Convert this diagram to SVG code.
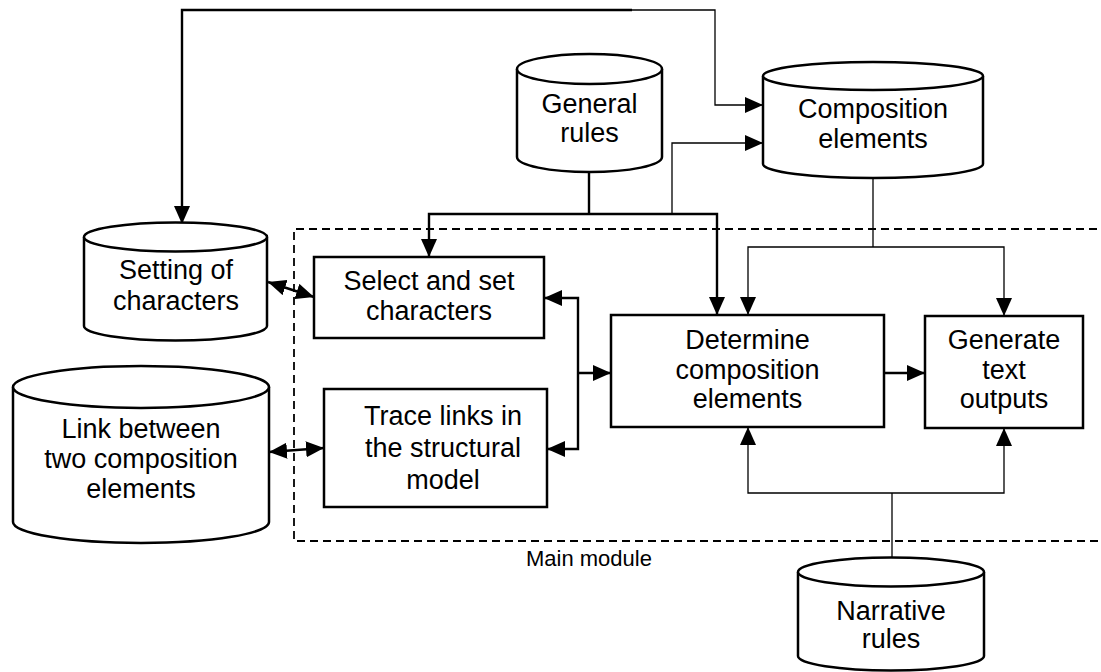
<svg xmlns="http://www.w3.org/2000/svg" width="1101" height="672" viewBox="0 0 1101 672">
  <style>
    .box { fill: #fff; stroke: #000; stroke-width: 2.5; }
    .db { fill: #fff; stroke: #000; stroke-width: 2.5; }
    .lbl { font-family: "Liberation Sans", Arial, sans-serif; font-size: 27px; fill: #000; text-anchor: middle; }
    .cap { font-family: "Liberation Sans", Arial, sans-serif; font-size: 22px; fill: #000; }
    .thick { fill: none; stroke: #000; stroke-width: 2.4; }
    .thin { fill: none; stroke: #000; stroke-width: 1.3; }
    .frame { fill: none; stroke: #000; stroke-width: 1.8; stroke-dasharray: 8 5; }
  </style>
  <defs>
    <marker id="arr" markerUnits="userSpaceOnUse" markerWidth="18" markerHeight="16" viewBox="0 0 18 16" refX="18" refY="8" orient="auto-start-reverse">
      <path d="M0,0 L18,8 L0,16 Z" fill="#000"/>
    </marker>
  </defs>

  <rect width="1101" height="672" fill="#fff"/>

  <!-- main module frame (runs off the right edge) -->
  <g id="main-module">
    <path class="frame" d="M1110,229 H294 V541 H1110"/>
    <text class="cap" x="526" y="566">Main module</text>
  </g>

  <g id="connectors">
    <!-- long loop across the top -->
    <path class="thick" d="M632,10 H182 V224" marker-end="url(#arr)"/>
    <path class="thin" d="M631,10 H715 V105 H763" marker-end="url(#arr)"/>
    <!-- general rules feed -->
    <path class="thick" d="M589,172 V214"/>
    <path class="thick" d="M429,257 V214 H717 V315" marker-start="url(#arr)" marker-end="url(#arr)"/>
    <path class="thin" d="M672,214 V143 H763" marker-end="url(#arr)"/>
    <!-- composition elements feed -->
    <path class="thin" d="M873,178 V247"/>
    <path class="thin" d="M748,315 V247 H1004 V316" marker-start="url(#arr)" marker-end="url(#arr)"/>
    <!-- narrative rules feed -->
    <path class="thin" d="M892,558 V493"/>
    <path class="thin" d="M748,427 V493 H1004 V428" marker-start="url(#arr)" marker-end="url(#arr)"/>
    <!-- characters / links to determine -->
    <path class="thick" d="M544,298 H578 V449 H547" marker-start="url(#arr)" marker-end="url(#arr)"/>
    <path class="thick" d="M578,373 H611" marker-end="url(#arr)"/>
    <path class="thick" d="M884,373 H925" marker-end="url(#arr)"/>
    <!-- store exchanges -->
    <path class="thick" d="M268,282 L314,297" marker-start="url(#arr)" marker-end="url(#arr)"/>
    <path class="thick" d="M269,452 L324,448" marker-start="url(#arr)" marker-end="url(#arr)"/>
  </g>

  <g id="general-rules">
    <path class="db" d="M517,69 A72.5,15 0 0 1 662,69 V157 A72.5,15 0 0 1 517,157 Z"/>
    <path class="db" fill="none" d="M517,69 A72.5,15 0 0 0 662,69"/>
    <text class="lbl" x="589.5" y="113">General</text>
    <text class="lbl" x="589.5" y="142">rules</text>
  </g>

  <g id="composition-elements">
    <path class="db" d="M763,76 A110,14 0 0 1 983,76 V164 A110,14 0 0 1 763,164 Z"/>
    <path class="db" fill="none" d="M763,76 A110,14 0 0 0 983,76"/>
    <text class="lbl" x="873" y="118">Composition</text>
    <text class="lbl" x="873" y="148">elements</text>
  </g>

  <g id="setting-of-characters">
    <path class="db" d="M84,237 A91.5,14.5 0 0 1 267,237 V326 A91.5,14.5 0 0 1 84,326 Z"/>
    <path class="db" fill="none" d="M84,237 A91.5,14.5 0 0 0 267,237"/>
    <text class="lbl" x="176" y="279">Setting of</text>
    <text class="lbl" x="176" y="310">characters</text>
  </g>

  <g id="link-between-elements">
    <path class="db" d="M13,387 A128,21 0 0 1 269,387 V522 A128,21 0 0 1 13,522 Z"/>
    <path class="db" fill="none" d="M13,387 A128,21 0 0 0 269,387"/>
    <text class="lbl" x="141" y="438">Link between</text>
    <text class="lbl" x="141" y="468">two composition</text>
    <text class="lbl" x="141" y="498">elements</text>
  </g>

  <g id="narrative-rules">
    <path class="db" d="M798,572 A93,14.5 0 0 1 984,572 V656 A93,14.5 0 0 1 798,656 Z"/>
    <path class="db" fill="none" d="M798,572 A93,14.5 0 0 0 984,572"/>
    <text class="lbl" x="891" y="620">Narrative</text>
    <text class="lbl" x="891" y="648">rules</text>
  </g>

  <g id="select-characters">
    <rect class="box" x="314" y="257" width="230" height="81"/>
    <text class="lbl" x="429" y="290">Select and set</text>
    <text class="lbl" x="429" y="320">characters</text>
  </g>

  <g id="trace-links">
    <rect class="box" x="324" y="389" width="223" height="118"/>
    <text class="lbl" x="443" y="425">Trace links in</text>
    <text class="lbl" x="443" y="457">the structural</text>
    <text class="lbl" x="443" y="489">model</text>
  </g>

  <g id="determine-elements">
    <rect class="box" x="611" y="315" width="273" height="112"/>
    <text class="lbl" x="747.5" y="349">Determine</text>
    <text class="lbl" x="747.5" y="379">composition</text>
    <text class="lbl" x="747.5" y="408">elements</text>
  </g>

  <g id="generate-outputs">
    <rect class="box" x="925" y="316" width="158" height="112"/>
    <text class="lbl" x="1004" y="349">Generate</text>
    <text class="lbl" x="1004" y="379">text</text>
    <text class="lbl" x="1004" y="408">outputs</text>
  </g>
</svg>
